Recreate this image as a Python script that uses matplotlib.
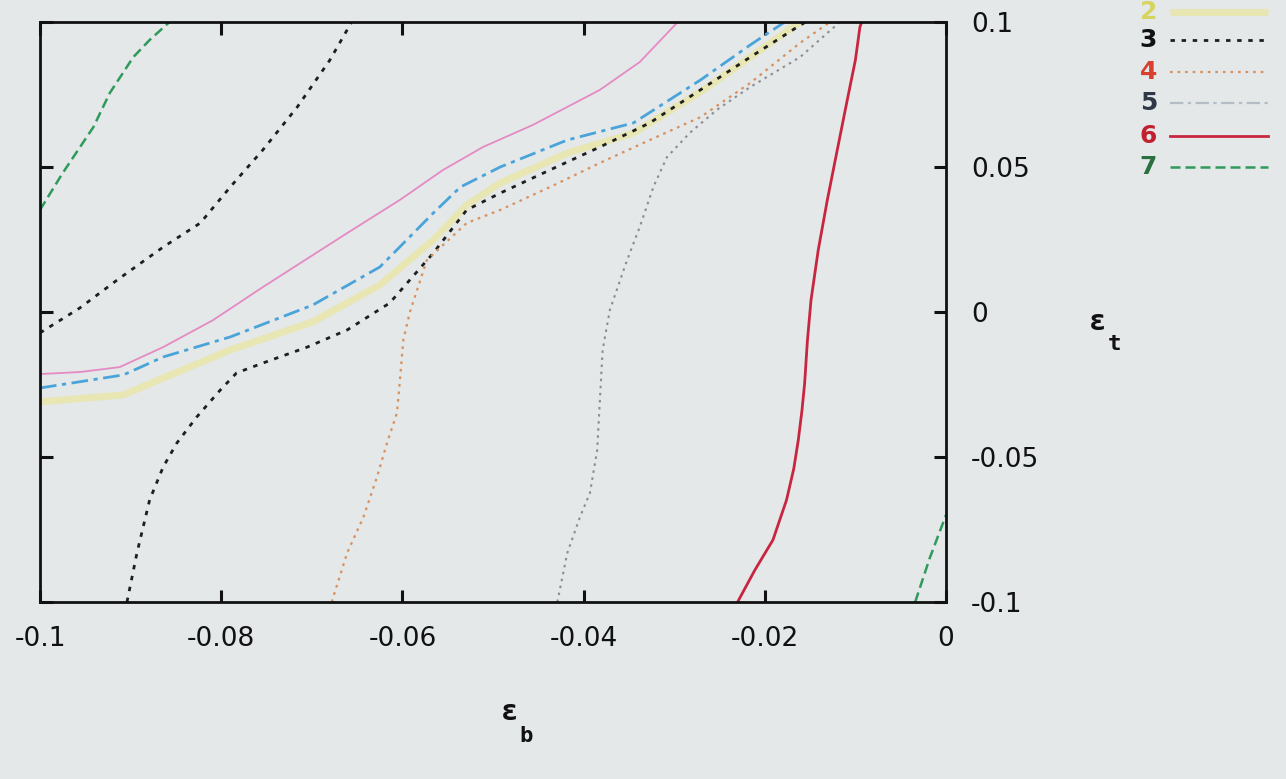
import matplotlib
matplotlib.use("Agg")
import matplotlib.pyplot as plt
from matplotlib.lines import Line2D

# contour branches (eps_b, eps_t)
green_a_x = [-0.1, -0.0975, -0.0941, -0.0923, -0.0897, -0.0879, -0.0857]
green_a_y = [0.0352, 0.0479, 0.0638, 0.0755, 0.0879, 0.0938, 0.1]
green_b_x = [-0.0034, -0.0018, 0.0]
green_b_y = [-0.1, -0.0849, -0.070]

black_a_x = [-0.1, -0.0956, -0.0915, -0.0864, -0.0823, -0.0790, -0.0754, -0.0716, -0.0680, -0.0656]
black_a_y = [-0.0072, 0.0014, 0.0110, 0.0224, 0.0307, 0.0431, 0.0559, 0.0707, 0.0869, 0.1]

pink_x = [-0.1, -0.0956, -0.0912, -0.0864, -0.0809, -0.0754, -0.0661, -0.0603, -0.0555, -0.0511, -0.0456, -0.0382, -0.0338, -0.0296]
pink_y = [-0.0214, -0.0207, -0.0190, -0.0121, -0.0028, 0.0086, 0.0272, 0.0386, 0.0490, 0.0569, 0.0645, 0.0766, 0.0862, 0.1]

blue_x = [-0.1, -0.0908, -0.0864, -0.0790, -0.0699, -0.0625, -0.0603, -0.0566, -0.0536, -0.0492, -0.0418, -0.0345, -0.0271, -0.0216, -0.0178]
blue_y = [-0.0262, -0.0217, -0.0155, -0.0086, 0.0024, 0.0155, 0.0224, 0.0341, 0.0431, 0.0500, 0.0593, 0.0652, 0.0800, 0.0921, 0.1]

yellow_x = [-0.1, -0.0908, -0.0864, -0.0790, -0.0699, -0.0625, -0.0566, -0.0529, -0.0492, -0.0418, -0.0345, -0.0271, -0.0216, -0.0161]
yellow_y = [-0.0310, -0.0286, -0.0228, -0.0131, -0.0034, 0.0093, 0.0248, 0.0369, 0.0445, 0.0548, 0.0617, 0.0759, 0.0879, 0.1]

black_b_x = [-0.0904, -0.0893, -0.0879, -0.0864, -0.0849, -0.0827, -0.0801, -0.0783, -0.0754, -0.0705, -0.0661, -0.0614,
             -0.0566, -0.0529, -0.0492, -0.0437, -0.0382, -0.0327, -0.0271, -0.0216, -0.0164, -0.0155]
black_b_y = [-0.1, -0.0831, -0.0648, -0.0534, -0.0452, -0.0362, -0.0269, -0.0210, -0.0176, -0.0121, -0.0062, 0.0031,
             0.0203, 0.0352, 0.0410, 0.0490, 0.0569, 0.0652, 0.0766, 0.0879, 0.0983, 0.1]

orange_x = [-0.0678, -0.0661, -0.0643, -0.0628, -0.0617, -0.0606, -0.0603, -0.0599, -0.0592, -0.0573, -0.0529, -0.0492,
            -0.0437, -0.0382, -0.0327, -0.0271, -0.0216, -0.0161, -0.0128]
orange_y = [-0.1, -0.0831, -0.0707, -0.0569, -0.0452, -0.0348, -0.0245, -0.0097, -0.0003, 0.0179, 0.0307, 0.0352,
            0.0431, 0.0514, 0.0593, 0.0672, 0.0790, 0.0928, 0.1]

gray_x = [-0.0429, -0.0418, -0.0404, -0.0393, -0.0385, -0.0382, -0.0379, -0.0371, -0.0352, -0.0338, -0.0323, -0.0308,
          -0.0283, -0.0253, -0.0216, -0.0161, -0.0131, -0.0117]
gray_y = [-0.1, -0.0831, -0.0707, -0.0624, -0.0476, -0.0303, -0.0131, 0.0007, 0.0179, 0.0293, 0.0431, 0.0534,
          0.0617, 0.0697, 0.0776, 0.0879, 0.0962, 0.1]

red_x = [-0.0230, -0.0211, -0.0191, -0.0176, -0.0168, -0.0163, -0.0159, -0.0156, -0.0153, -0.0149, -0.0141, -0.0131,
         -0.0120, -0.0109, -0.0100, -0.0095, -0.0093]
red_y = [-0.1, -0.0890, -0.0786, -0.0648, -0.0540, -0.0441, -0.0340, -0.0245, -0.0100, 0.0041, 0.0214, 0.0386,
         0.0559, 0.0731, 0.0869, 0.0983, 0.1]

xticks = [-0.1, -0.08, -0.06, -0.04, -0.02, 0.0]
xtick_labels = ["-0.1", "-0.08", "-0.06", "-0.04", "-0.02", "0"]
yticks = [-0.1, -0.05, 0.0, 0.05, 0.1]
ytick_labels = ["-0.1", "-0.05", "0", "0.05", "0.1"]

legend_labels = ["2", "3", "4", "5", "6", "7"]

bg = "#e4e8e8"
W, H = 1286, 779
fig = plt.figure(figsize=(W / 100, H / 100), dpi=100, facecolor=bg)
ax = fig.add_axes([40 / W, 1 - 602 / H, 906 / W, 580 / H], facecolor=bg)

# styles
st_yellow = dict(color="#e8e6b2", lw=5, solid_capstyle="butt")
st_pink = dict(color="#e48ac4", lw=1.3)
st_blue = dict(color="#4aa4da", lw=2, linestyle=(0, (6, 2, 1.5, 2)))
st_black = dict(color="#1e1e1e", lw=2, linestyle=(0, (1.6, 2.4)))
st_orange = dict(color="#d8905e", lw=1.6, linestyle=(0, (1.2, 2.2)))
st_gray = dict(color="#8a8e94", lw=1.5, linestyle=(0, (1.2, 2.2)))
st_red = dict(color="#c82640", lw=2)
st_green = dict(color="#2f9a5c", lw=1.8, linestyle=(0, (4, 2)))

ax.plot(yellow_x, yellow_y, **st_yellow)
ax.plot(pink_x, pink_y, **st_pink)
ax.plot(blue_x, blue_y, **st_blue)
ax.plot(black_a_x, black_a_y, **st_black)
ax.plot(black_b_x, black_b_y, **st_black)
ax.plot(orange_x, orange_y, **st_orange)
ax.plot(gray_x, gray_y, **st_gray)
ax.plot(red_x, red_y, **st_red)
ax.plot(green_a_x, green_a_y, **st_green)
ax.plot(green_b_x, green_b_y, **st_green)

ax.set_xlim(-0.1, 0.0)
ax.set_ylim(-0.1, 0.1)
for s in ax.spines.values():
    s.set_linewidth(2)
    s.set_color("#111111")

tfont = dict(family="DejaVu Sans", size=19, color="#111111")
ax.set_xticks(xticks)
ax.set_xticklabels(xtick_labels, fontdict=tfont)
ax.set_yticks(yticks)
ax.set_yticklabels(ytick_labels, fontdict=tfont, ha="left")
ax.yaxis.tick_right()
ax.tick_params(axis="both", direction="in", length=9, width=2.2, top=True, bottom=True,
               left=True, right=True, color="#111111")
ax.tick_params(axis="x", pad=17)
ax.tick_params(axis="y", pad=18)

# axis labels (epsilon with subscript)
lab = dict(family="DejaVu Sans Mono", weight="bold", color="#111111")
fig.text(510 / W, 1 - 712 / H, "ε", fontsize=21, ha="center", va="center", **lab)
fig.text(526 / W, 1 - 736 / H, "b", fontsize=16, ha="center", va="center", **lab)
fig.text(1098 / W, 1 - 322 / H, "ε", fontsize=21, ha="center", va="center", **lab)
fig.text(1114 / W, 1 - 344 / H, "t", fontsize=16, ha="center", va="center", **lab)

# key in the top right corner
key_styles = [st_yellow, st_black, st_orange, dict(color="#b4bcc6", lw=1.6, linestyle=(0, (6, 2, 1.5, 2))), st_red, st_green]
key_colors = ["#d6d460", "#111111", "#d84030", "#303848", "#c02030", "#2a7040"]
key_y = [12, 40, 72, 103, 136, 167]
for lbl, sty, col, y in zip(legend_labels, key_styles, key_colors, key_y):
    fig.text(1157 / W, 1 - y / H, lbl, fontsize=18, family="DejaVu Sans", weight="bold",
             color=col, ha="right", va="center")
    fig.add_artist(Line2D([1170 / W, 1268 / W], [1 - y / H, 1 - y / H],
                          transform=fig.transFigure, **sty))

fig.savefig("out.png", dpi=100, facecolor=bg)
